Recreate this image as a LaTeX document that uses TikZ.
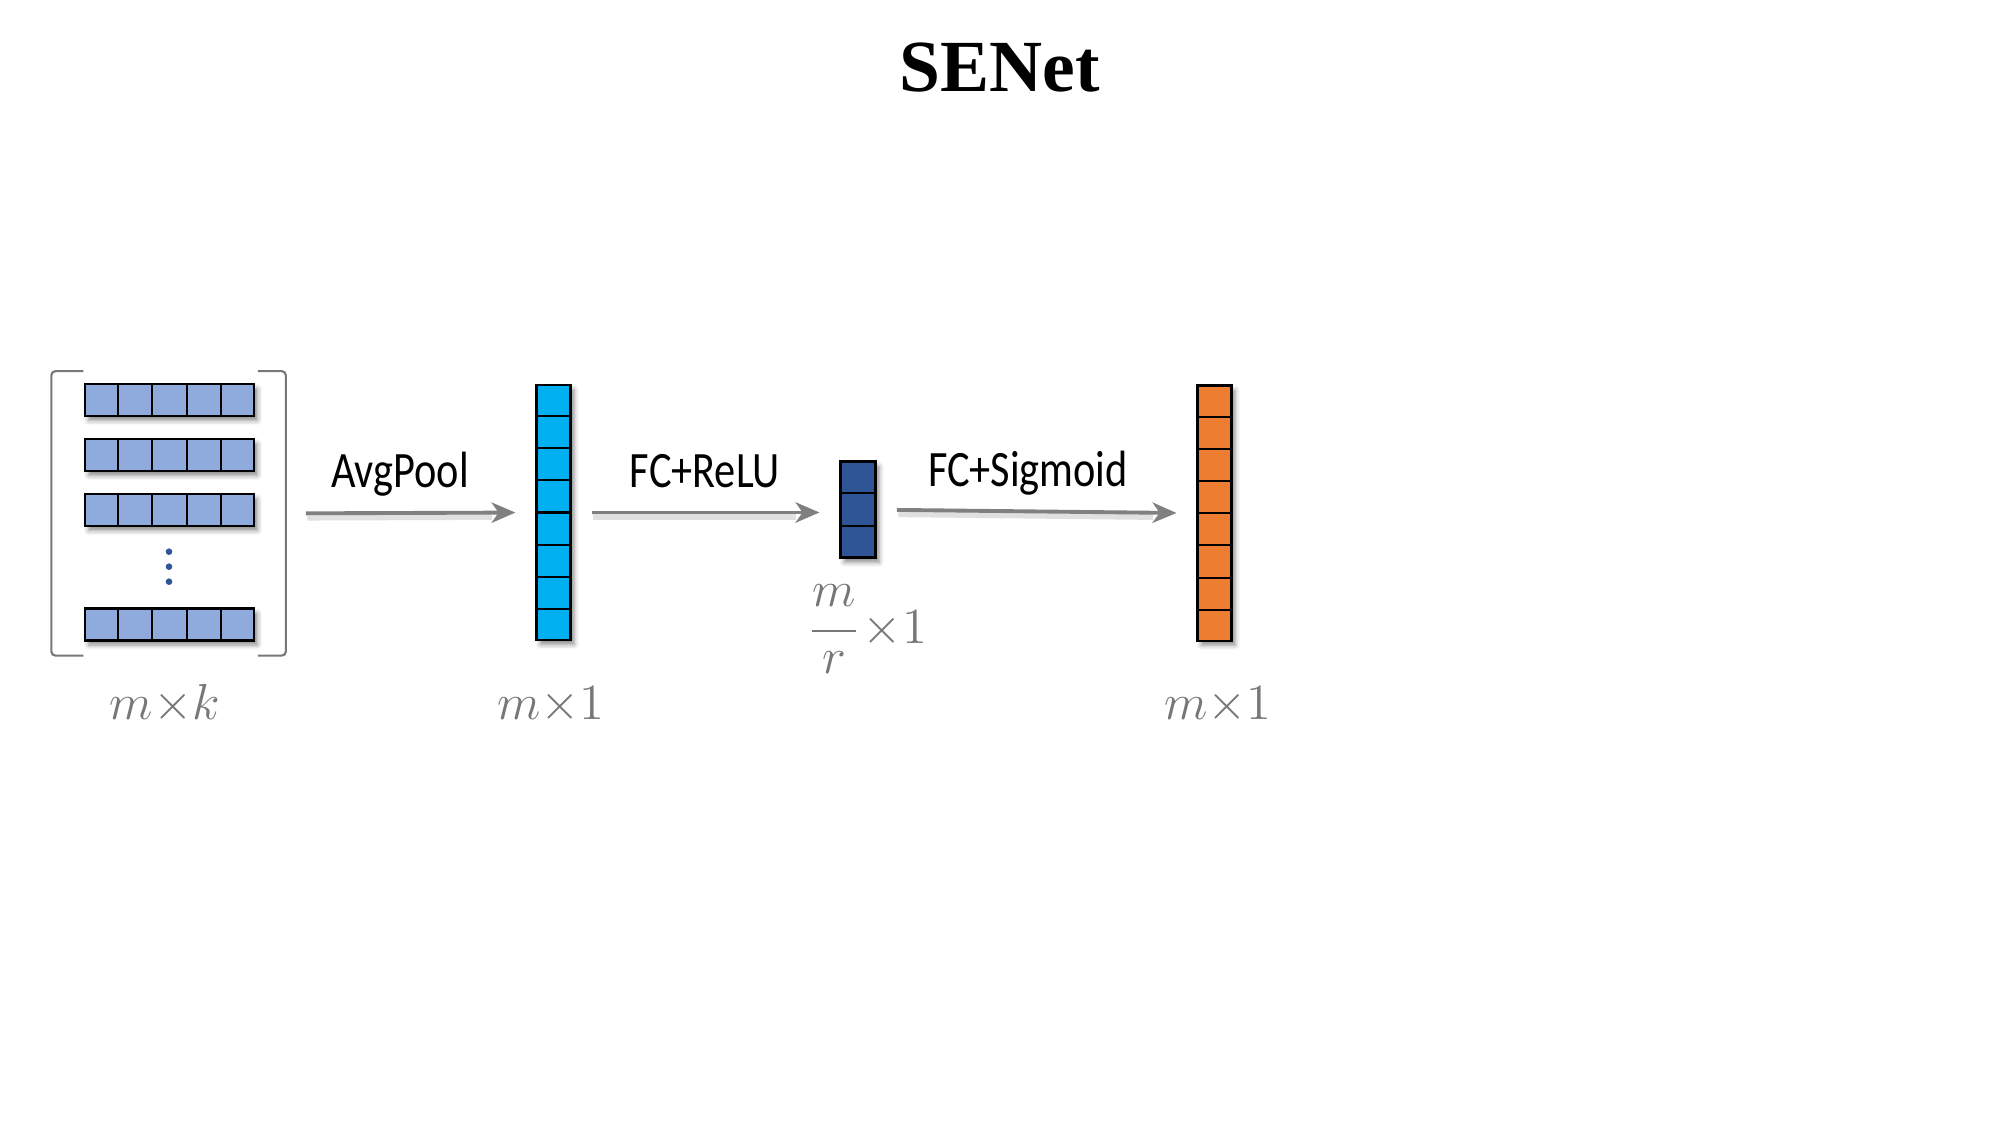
\documentclass[tikz,border=0pt]{standalone}
\usepackage{fontspec}
\usetikzlibrary{arrows.meta,shadows.blur,calc}
\newfontfamily\titlefont{Liberation Serif}
\newfontfamily\opfont{Carlito}[FakeStretch=0.83]
\definecolor{rowblue}{HTML}{8FAADC}
\definecolor{sqcyan}{HTML}{00B0F0}
\definecolor{exblue}{HTML}{2F5597}
\definecolor{scorange}{HTML}{ED7D31}
\definecolor{flowgray}{HTML}{808080}
\definecolor{dimgray}{HTML}{777777}

\tikzset{
  cellbox/.style={draw=black, line width=0.7pt, inner sep=0pt,
    blur shadow={shadow xshift=1pt, shadow yshift=-1.3pt,
                 shadow blur radius=1.3pt, shadow opacity=45}},
  rowbox/.style={cellbox, fill=rowblue, minimum width=1.69cm, minimum height=0.32cm},
  colbox/.style={cellbox, minimum width=0.34cm, minimum height=2.55cm},
  divider/.style={black, line width=0.6pt},
  flow/.style={flowgray, line width=1.1pt,
    -{Stealth[length=6.8pt, width=5.8pt, inset=2pt]},
    shorten <=0.2cm, shorten >=0.2cm},
  flowshadow/.style={black, opacity=0.12, line width=2.4pt,
    shorten <=0.2cm, shorten >=0.45cm},
  oplabel/.style={font=\opfont\fontsize{14.5}{17}\selectfont, anchor=base, inner sep=0pt},
  dimlabel/.style={text=dimgray, font=\fontsize{14.4}{17}\selectfont, anchor=base, inner sep=0pt},
  bracket/.style={dimgray, line width=0.6pt, rounded corners=1.2pt},
}

\begin{document}
\begin{tikzpicture}[x=0.01cm, y=-0.01cm]
\useasboundingbox (0,0) rectangle (2000,1125);

% title
\node[font=\titlefont\bfseries\fontsize{20.9}{25}\selectfont, anchor=base, inner sep=0pt]
  (title) at (1000,92) {SENet};

% input feature map: m rows of k cells inside brackets
\node[inner sep=0pt, minimum width=2.33cm, minimum height=2.83cm] (mat) at (168.6,513.4) {};
\draw[bracket] ([xshift=0.32cm]mat.north west) -- (mat.north west)
  -- (mat.south west) -- ([xshift=0.32cm]mat.south west);
\draw[bracket] ([xshift=-0.28cm]mat.north east) -- (mat.north east)
  -- (mat.south east) -- ([xshift=-0.28cm]mat.south east);

\foreach \name/\yc in {r1/400, r2/455, r3/510, r4/624.5} {
  \node[rowbox] (\name) at (169.5,\yc) {};
  \foreach \k in {1,...,4}
    \draw[divider] ($(\name.north west)!\k/5!(\name.north east)$)
      -- ($(\name.south west)!\k/5!(\name.south east)$);
}
\foreach \yd in {551.7,566.7,581.7}
  \fill[exblue] (169,\yd) circle[radius=0.033cm];

% squeezed vector
\node[colbox, fill=sqcyan] (sq) at (553.7,512.5) {};
\foreach \k in {1,...,7}
  \draw[divider] ($(sq.north west)!\k/8!(sq.south west)$)
    -- ($(sq.north east)!\k/8!(sq.south east)$);

% bottleneck vector
\node[cellbox, fill=exblue, minimum width=0.35cm, minimum height=0.96cm] (ex) at (858.2,509.7) {};
\foreach \k in {1,2}
  \draw[divider] ($(ex.north west)!\k/3!(ex.south west)$)
    -- ($(ex.north east)!\k/3!(ex.south east)$);

% channel weights
\node[colbox, fill=scorange] (sc) at (1214.7,513.2) {};
\foreach \k in {1,...,7}
  \draw[divider] ($(sc.north west)!\k/8!(sc.south west)$)
    -- ($(sc.north east)!\k/8!(sc.south east)$);

% arrows with soft shadows
\draw[flowshadow] ([shift={(1.5,3)}]mat.east) -- ([shift={(1.5,3)}]sq.west);
\draw[flowshadow] ([shift={(1.5,3)}]sq.east) -- ([shift={(1.5,3)}]sq.east -| ex.west);
\draw[flowshadow] ([shift={(1.5,3)}]ex.east) -- ([shift={(1.5,3)}]sc.west);
\draw[flow] (mat.east) -- (sq.west);
\draw[flow] (sq.east) -- (sq.east -| ex.west);
\draw[flow] (ex.east) -- (sc.west);

% operation labels
\node[oplabel] (avg) at (400,488) {AvgPool};
\node[oplabel] (fcr) at (705,488) {FC+ReLU};
\node[oplabel] (fcs) at (1028,487) {FC+Sigmoid};

% dimension labels
\node[dimlabel] (dmk) at (165,719) {$m{\times}k$};
\node[dimlabel] (dsq) at (551,719) {$m{\times}1$};
\node[dimlabel] (dsc) at (1218,719) {$m{\times}1$};
\node[dimlabel] (fm) at (834,607) {$m$};
\draw[dimgray, line width=0.8pt] (812,631) -- (856,631);
\node[dimlabel] (fr) at (834,673) {$r$};
\node[dimlabel, anchor=base west] (fx) at (862,644) {${\times}1$};
\end{tikzpicture}
\end{document}
